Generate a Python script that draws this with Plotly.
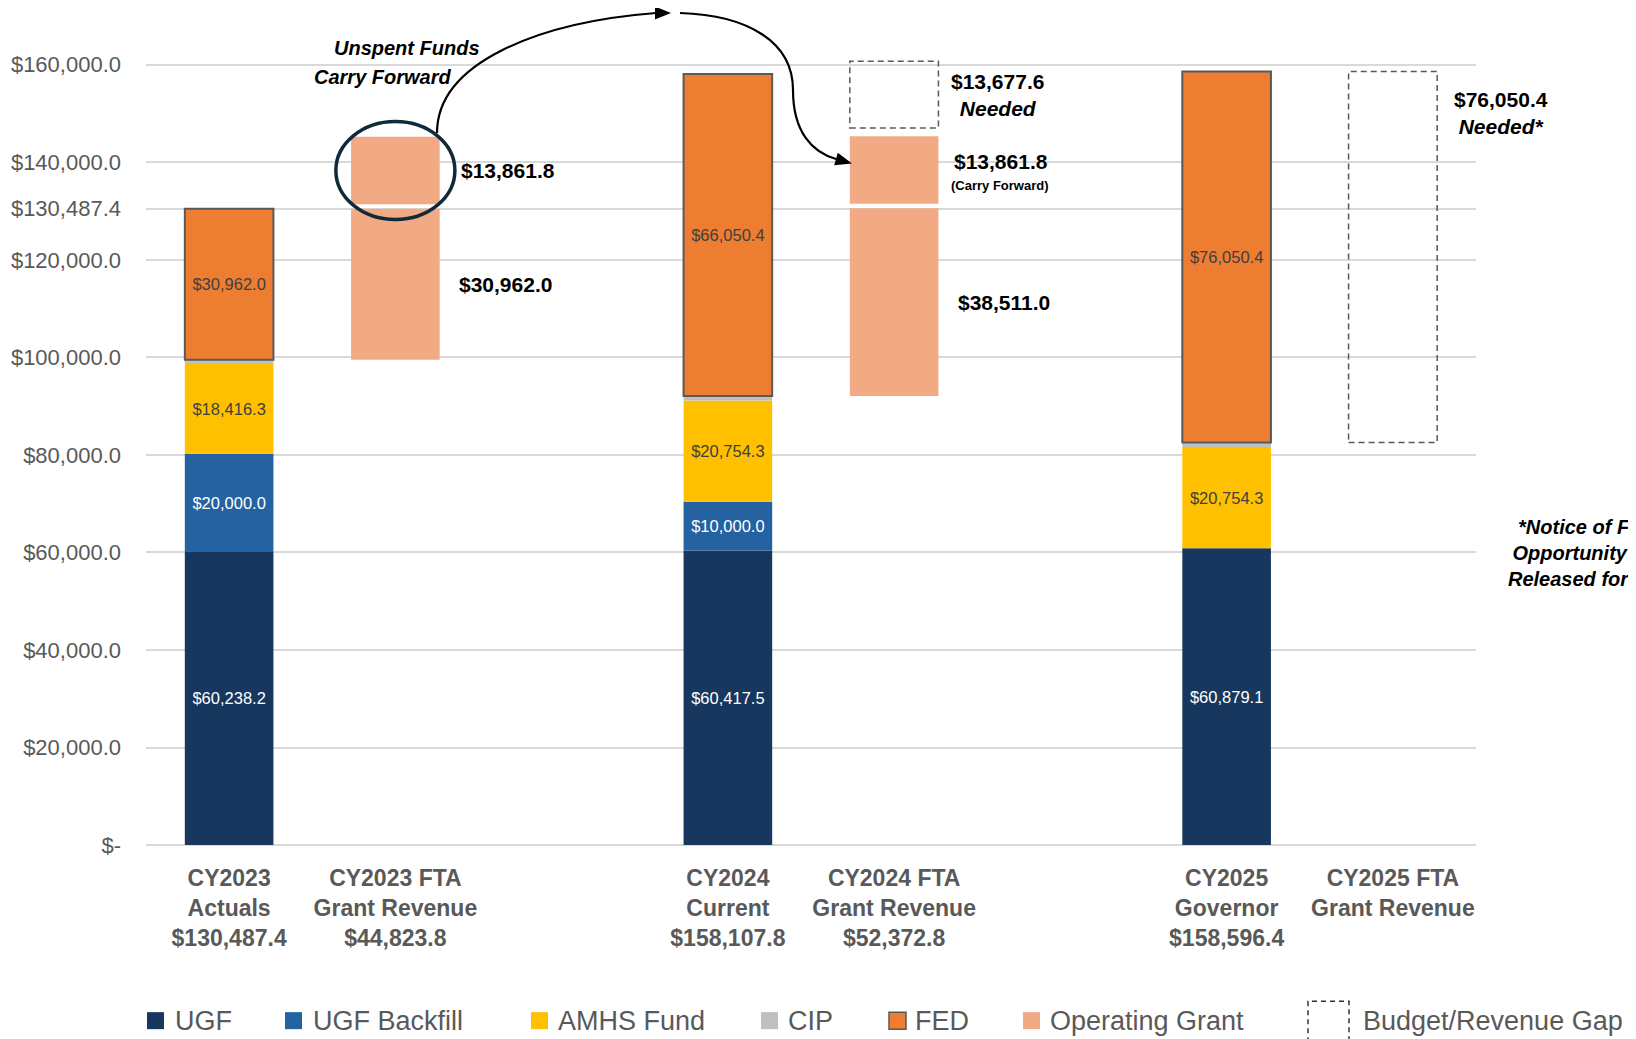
import numpy as np
import plotly.graph_objects as go

# x slots 2 and 5 stay empty so the three years sit apart
budget_x = [0, 3, 6]
grant_x = [1, 4]
gap_x = [4, 7]
tick_x = [0, 1, 3, 4, 6, 7]
tick_labels = [
    "CY2023<br>Actuals<br>$130,487.4",
    "CY2023 FTA<br>Grant Revenue<br>$44,823.8",
    "CY2024<br>Current<br>$158,107.8",
    "CY2024 FTA<br>Grant Revenue<br>$52,372.8",
    "CY2025<br>Governor<br>$158,596.4",
    "CY2025 FTA<br>Grant Revenue",
]

budget_total = np.array([130487.4, 158107.8, 158596.4])
ugf = np.array([60238.2, 60417.5, 60879.1])
ugf_backfill = np.array([20000.0, 10000.0, 0.0])
amhs = np.array([18416.3, 20754.3, 20754.3])
fed = np.array([30962.0, 66050.4, 76050.4])
cip = budget_total - ugf - ugf_backfill - amhs - fed

grant_new = np.array([30962.0, 38511.0])
grant_carry = np.array([13861.8, 13861.8])
gap_needed = np.array([13677.6, 76050.4])

y_ticks = [0, 20000, 40000, 60000, 80000, 100000, 120000, 140000, 160000, 130487.4]

C_UGF = "#17375E"
C_BACK = "#2462A1"
C_AMHS = "#FFC000"
C_CIP = "#BFBFBF"
C_FED = "#ED7D31"
C_GRANT = "#F2AA84"
GREY = "#595959"

SANS = "Liberation Sans, Arial, sans-serif"

# page geometry: the plot div sits 8px in from the page corner
OFF = 8
W, H = 1636, 1039
PLOT_L, PLOT_R = 146, 1476          # page px of the plot area
Y0_PX, Y160_PX = 845, 64.7          # page px of $0 and $160,000
PER = 160000 / (Y0_PX - Y160_PX)    # dollars per px
XR = [-0.5, 7.5]
YR = [-1000, 160000 + (Y160_PX - OFF) * PER]
PLOT_B = Y0_PX + 1000 / PER
ML = PLOT_L - OFF
MR = W - (PLOT_R - OFF)
MB = H - (PLOT_B - OFF)
BAR_W = 0.533
GAP = 900      # white split between the grant blocks
GAP2 = 1700    # space above carry forward block


def to_data(px, py):
    x = XR[0] + (px - PLOT_L) / (PLOT_R - PLOT_L) * (XR[1] - XR[0])
    y = (Y0_PX - py) * PER
    return x, y


def to_paper(px, py):
    return (px - PLOT_L) / (PLOT_R - PLOT_L), (PLOT_B - py) / (PLOT_B - OFF)


def path_from_px(cmds):
    out = []
    for c in cmds:
        if isinstance(c, str):
            out.append(c)
        else:
            x, y = to_data(*c)
            out.append(f"{x:.4f},{y:.1f}")
    return " ".join(out)


def money(v):
    return f"${v:,.1f}"


fig = go.Figure()


def add_bar(x, y, base, color, text_color=None, line=None):
    text = [money(v) if (text_color and v > 0) else "" for v in y]
    fig.add_trace(go.Bar(
        x=x, y=y, base=base, width=BAR_W,
        marker=dict(color=color, line=line or dict(width=0)),
        text=text, textposition="inside", insidetextanchor="middle", textangle=0,
        textfont=dict(color=text_color or "white", size=16.5, family=SANS),
        showlegend=False, hoverinfo="skip"))


# budget stacks
b0 = np.zeros(3)
add_bar(budget_x, ugf, b0, C_UGF, "white")
b1 = b0 + ugf
add_bar(budget_x, ugf_backfill, b1, C_BACK, "white")
b2 = b1 + ugf_backfill
add_bar(budget_x, amhs, b2, C_AMHS, "#404040")
b3 = b2 + amhs
add_bar(budget_x, cip, b3, C_CIP)
fed_base = b3 + cip
add_bar(budget_x, fed, fed_base, C_FED, "#404040", dict(color=GREY, width=2))

# FTA grant revenue floats next to the FED part
grant_base = fed_base[:2]
add_bar(grant_x, grant_new, grant_base, C_GRANT)
carry_base = grant_base + grant_new + GAP
add_bar(grant_x, grant_carry, carry_base, C_GRANT)
carry_top = carry_base + grant_carry

# budget / revenue gap boxes (dashed outline)
gap_base = np.array([carry_top[1] + GAP2, fed_base[2]])
for gx, gb, gv in zip(gap_x, gap_base, gap_needed):
    fig.add_shape(type="rect", xref="x", yref="y",
                  x0=gx - BAR_W / 2, x1=gx + BAR_W / 2, y0=gb, y1=gb + gv,
                  line=dict(color=GREY, width=1.5, dash="6px,4px"), fillcolor="rgba(0,0,0,0)")

# value labels to the right of FTA bars
big = dict(size=21, color="black", family=SANS)
ann = []
for gx, base, v in zip(grant_x, grant_base, grant_new):
    ann.append(dict(x=gx, y=base + v / 2, text=f"<b>{money(v)}</b>", xshift=110, font=big))
c23 = carry_base[0] + grant_carry[0] / 2
ann.append(dict(x=grant_x[0], y=c23, text=f"<b>{money(grant_carry[0])}</b>", xshift=113, font=big))
c24 = carry_base[1] + grant_carry[1] / 2
ann.append(dict(x=grant_x[1], y=c24, text=f"<b>{money(grant_carry[1])}</b>", xshift=107, yshift=9, font=big))
ann.append(dict(x=grant_x[1], y=c24, text="<b>(Carry Forward)</b>", xshift=106, yshift=-15,
                font=dict(size=13, color="black", family=SANS)))
ann.append(dict(x=gap_x[0], y=gap_base[0] + gap_needed[0] / 2,
                text=f"<b>{money(gap_needed[0])}</b><br><b><i>Needed</i></b>", xshift=103, font=big))
ann.append(dict(x=gap_x[1], y=gap_base[1] + gap_needed[1], yshift=-41,
                text=f"<b>{money(gap_needed[1])}</b><br><b><i>Needed*</i></b>", xshift=108, font=big))
for a in ann:
    a.update(xref="x", yref="y", showarrow=False, xanchor="center", yanchor="middle")
    fig.add_annotation(**a)

# unspent funds note, circle and curved arrows
for txt, pos in [("Unspent Funds", (407, 48)), ("Carry Forward", (382, 77))]:
    ux, uy = to_data(*pos)
    fig.add_annotation(x=ux, y=uy, xref="x", yref="y", showarrow=False, xanchor="center",
                       text=f"<b><i>{txt}</i></b>", font=dict(size=20, color="black", family=SANS))

fig.add_shape(type="circle", xref="x", yref="y",
              x0=grant_x[0] - 0.358, x1=grant_x[0] + 0.358, y0=c23 - 10050, y1=c23 + 10050,
              line=dict(color="#0E2A3B", width=3.5))

arrow_line = dict(color="black", width=2.2)
fig.add_shape(type="path", xref="x", yref="y", line=arrow_line,
              path=path_from_px(["M", (437, 133), "C", (437, 62), (540, 22), (656, 13)]))
fig.add_shape(type="path", xref="x", yref="y", line=dict(width=0), fillcolor="black",
              path=path_from_px(["M", (671, 13), "L", (655, 6.5), "L", (655, 19.5), "Z"]))
fig.add_shape(type="path", xref="x", yref="y", line=arrow_line,
              path=path_from_px(["M", (680, 13), "C", (748, 15), (793, 42), (793, 90),
                                 "C", (793, 132), (812, 152), (836, 159)]))
fig.add_shape(type="path", xref="x", yref="y", line=dict(width=0), fillcolor="black",
              path=path_from_px(["M", (852, 163.5), "L", (834.2, 165.2), "L", (837.8, 152.8), "Z"]))

# side note (runs off the right edge, as in the source slide)
nx, ny = to_paper(1607, 553)
fig.add_annotation(x=nx, y=ny, xref="paper", yref="paper", showarrow=False, align="center",
                   xanchor="center", yanchor="middle",
                   text="<b><i>*Notice of Funding<br>Opportunity Not Yet<br>Released for CY2025</i></b>",
                   font=dict(size=20, color="black", family=SANS))

# legend drawn by hand
legend_items = [
    ("UGF", C_UGF, 147, 173),
    ("UGF Backfill", C_BACK, 285, 311),
    ("AMHS Fund", C_AMHS, 531, 556),
    ("CIP", C_CIP, 761, 786),
    ("FED", C_FED, 889, 913),
    ("Operating Grant", C_GRANT, 1023, 1048),
]
for name, color, sx, tx in legend_items:
    x0, y0 = to_paper(sx, 1029)
    x1, y1 = to_paper(sx + 17, 1012)
    fig.add_shape(type="rect", xref="paper", yref="paper", x0=x0, x1=x1, y0=y0, y1=y1,
                  fillcolor=color,
                  line=dict(color=GREY, width=1.5) if name == "FED" else dict(width=0))
    px_, py_ = to_paper(tx, 1020.5)
    fig.add_annotation(x=px_, y=py_, xref="paper", yref="paper", showarrow=False,
                       xanchor="left", yanchor="middle", text=name,
                       font=dict(size=27, color=GREY, family=SANS))
x0, y0 = to_paper(1308, 1045)
x1, y1 = to_paper(1349, 1001)
fig.add_shape(type="rect", xref="paper", yref="paper", x0=x0, x1=x1, y0=y0, y1=y1,
              line=dict(color="#243746", width=1.5, dash="5px,4px"))
px_, py_ = to_paper(1361, 1020.5)
fig.add_annotation(x=px_, y=py_, xref="paper", yref="paper", showarrow=False,
                   xanchor="left", yanchor="middle", text="Budget/Revenue Gap",
                   font=dict(size=27, color=GREY, family=SANS))

fig.update_layout(
    width=W, height=H, barmode="overlay",
    margin=dict(l=ML, r=MR, t=0, b=MB),
    plot_bgcolor="white", paper_bgcolor="white",
    showlegend=False,
)
fig.update_xaxes(range=XR, tickvals=tick_x, ticktext=[f"<b>{t}</b>" for t in tick_labels],
                 tickfont=dict(size=23, color=GREY, family=SANS), tickangle=0,
                 showgrid=False, zeroline=False, showline=False, ticks="", ticklabelstandoff=12)
fig.update_yaxes(range=YR, tickvals=y_ticks,
                 ticktext=["$-" if v == 0 else money(v) for v in y_ticks],
                 tickfont=dict(size=22, color=GREY, family=SANS),
                 showgrid=True, gridcolor="#D9D9D9", gridwidth=1.5,
                 zeroline=False, showline=False, ticks="", ticklabelstandoff=24)

fig.write_html("out.html")
